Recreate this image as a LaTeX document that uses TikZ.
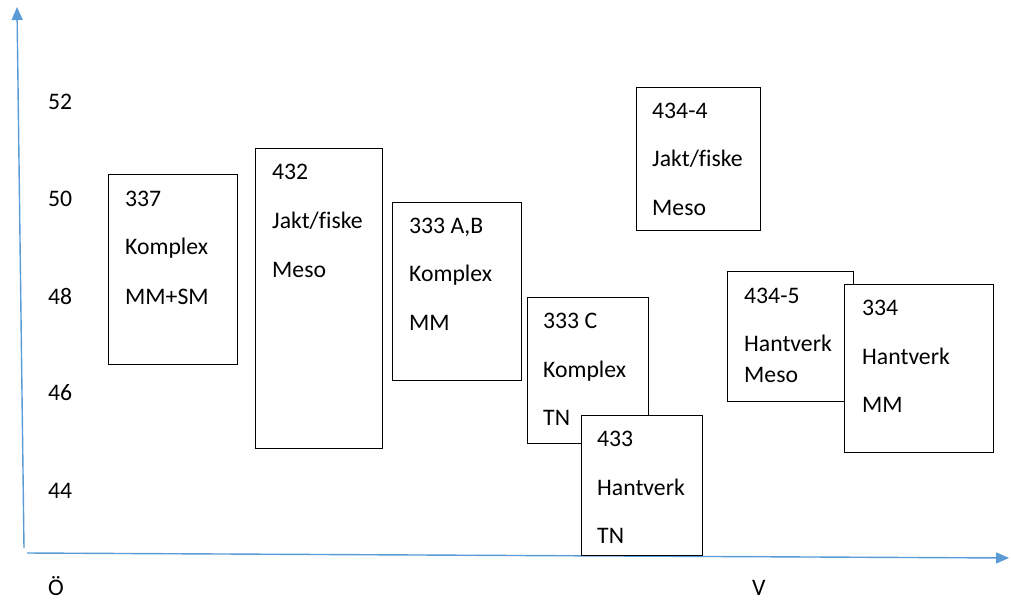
\documentclass[tikz,border=0pt]{standalone}
\usepackage{fontspec}
\setmainfont{Carlito}[Ligatures=NoCommon]
\usetikzlibrary{arrows.meta}
\definecolor{axisblue}{RGB}{91,155,213}
\begin{document}
\begin{tikzpicture}[x=1pt,y=-1pt,
  box/.style={draw=black,fill=white,line width=1.4pt,inner sep=0pt,anchor=north west},
  lbl/.style={anchor=base west,inner sep=0pt,font=\fontsize{23.7}{28}\selectfont},
  axisline/.style={draw=axisblue,line width=1.4pt,-{Triangle[length=13pt,width=11pt]}}]
\useasboundingbox (0,0) rectangle (1011,603);
% axes
\coordinate (oy) at (24,548);
\coordinate (ytip) at (17,7);
\coordinate (ox) at (27,553);
\coordinate (xtip) at (1009,558);
\draw[axisline] (oy) -- (ytip);
\draw[axisline] (ox) -- (xtip);
% axis labels
\node[lbl] (t52) at (48,109) {52};
\node[lbl] (t50) at (48,206) {50};
\node[lbl] (t48) at (48,304) {48};
\node[lbl] (t46) at (48,400) {46};
\node[lbl] (t44) at (48,498) {44};
\node[lbl] (tO) at (48,595) {Ö};
\node[lbl] (tV) at (752,595) {V};
% boxes
\node[box,minimum width=129pt,minimum height=190pt] (b337) at (108,174) {};
\node[lbl] (b337a) at (125,206) {337};
\node[lbl] (b337b) at (125,254) {Komplex};
\node[lbl] (b337c) at (125,304) {MM+SM};

\node[box,minimum width=127pt,minimum height=300pt] (b432) at (255,148) {};
\node[lbl] (b432a) at (272,179) {432};
\node[lbl] (b432b) at (272,228) {Jakt/fiske};
\node[lbl] (b432c) at (272,277) {Meso};

\node[box,minimum width=129pt,minimum height=178pt] (b333ab) at (392,202) {};
\node[lbl] (b333aba) at (409,233) {333 A,B};
\node[lbl] (b333abb) at (409,281) {Komplex};
\node[lbl] (b333abc) at (409,330) {MM};

\node[box,minimum width=121pt,minimum height=146pt] (b333c) at (527,297) {};
\node[lbl] (b333ca) at (543,328) {333 C};
\node[lbl] (b333cb) at (543,377) {Komplex};
\node[lbl] (b333cc) at (543,425) {TN};

\node[box,minimum width=121pt,minimum height=140pt] (b433) at (581,415) {};
\node[lbl] (b433a) at (597,446) {433};
\node[lbl] (b433b) at (597,495) {Hantverk};
\node[lbl] (b433c) at (597,543) {TN};

\node[box,minimum width=124pt,minimum height=143pt] (b4344) at (636,87) {};
\node[lbl] (b4344a) at (652,118) {434-4};
\node[lbl] (b4344b) at (652,166) {Jakt/fiske};
\node[lbl] (b4344c) at (652,215) {Meso};

\node[box,minimum width=126pt,minimum height=130pt] (b4345) at (727,271) {};
\node[lbl] (b4345a) at (744,303) {434-5};
\node[lbl] (b4345b) at (744,351) {Hantverk};
\node[lbl] (b4345c) at (744,382) {Meso};

\node[box,minimum width=149pt,minimum height=168pt] (b334) at (844,284) {};
\node[lbl] (b334a) at (862,315) {334};
\node[lbl] (b334b) at (862,364) {Hantverk};
\node[lbl] (b334c) at (862,412) {MM};
\end{tikzpicture}
\end{document}
